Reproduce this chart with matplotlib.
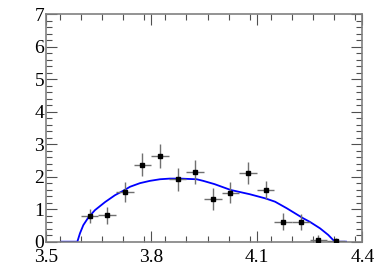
import matplotlib
matplotlib.use('Agg')
import matplotlib.pyplot as plt
import numpy as np
from matplotlib.ticker import MultipleLocator

plt.rcParams['font.family'] = 'Liberation Serif'

# measured points (bin centres, counts, errors)
x_pts = [3.625, 3.675, 3.725, 3.775, 3.825, 3.875, 3.925, 3.975,
         4.025, 4.075, 4.125, 4.175, 4.225, 4.275, 4.325]
y_pts = [0.78, 0.81, 1.53, 2.37, 2.63, 1.92, 2.13, 1.30,
         1.51, 2.11, 1.58, 0.61, 0.61, 0.05, 0.03]
y_err = [0.21, 0.27, 0.32, 0.36, 0.37, 0.36, 0.37, 0.34,
         0.32, 0.33, 0.28, 0.26, 0.24, 0.15, 0.08]
x_err = [0.025] * len(x_pts)

# fitted curve
curve_x = [3.545, 3.590, 3.5975, 3.607, 3.621, 3.640, 3.669, 3.697, 3.721,
           3.740, 3.768, 3.796, 3.825, 3.853, 3.882, 3.929, 3.948, 3.980,
           4.026, 4.080, 4.125, 4.152, 4.185, 4.232, 4.251, 4.280, 4.303,
           4.3175, 4.322, 4.354]
curve_y = [0.0, 0.0, 0.26, 0.51, 0.74, 0.97, 1.22, 1.43, 1.57,
           1.69, 1.80, 1.87, 1.92, 1.94, 1.94, 1.92, 1.87, 1.77,
           1.59, 1.46, 1.33, 1.23, 1.03, 0.72, 0.61, 0.41, 0.21,
           0.05, 0.0, 0.0]

fig = plt.figure(figsize=(3.82, 2.75), dpi=100)
ax = fig.add_axes([0.1196, 0.1211, 0.8288, 0.8279])

ax.plot(curve_x, curve_y, color='#0000ff', linewidth=1.3, zorder=2)
ax.errorbar(x_pts, y_pts, xerr=x_err, yerr=y_err, fmt='s', color='black',
            markersize=2.8, ecolor='#707070', elinewidth=1.0, capsize=0, zorder=3)

ax.set_xlim(3.5, 4.4)
ax.set_ylim(0, 7)
ax.set_xticks([3.5, 3.8, 4.1, 4.4])
ax.set_xticklabels(['3.5', '3.8', '4.1', '4.4'])
ax.set_yticks(range(0, 8))
ax.xaxis.set_minor_locator(MultipleLocator(0.06))
ax.yaxis.set_minor_locator(MultipleLocator(0.2))

for s in ax.spines.values():
    s.set_color('#808080')
    s.set_linewidth(1.2)
ax.tick_params(which='both', direction='in', top=True, right=True,
               color='#505050', labelsize=14, width=0.8)
ax.tick_params(which='major', length=8)
ax.tick_params(which='minor', length=4)
ax.tick_params(axis='y', pad=1)
ax.tick_params(axis='x', pad=5)

plt.savefig('out.png', dpi=100)
